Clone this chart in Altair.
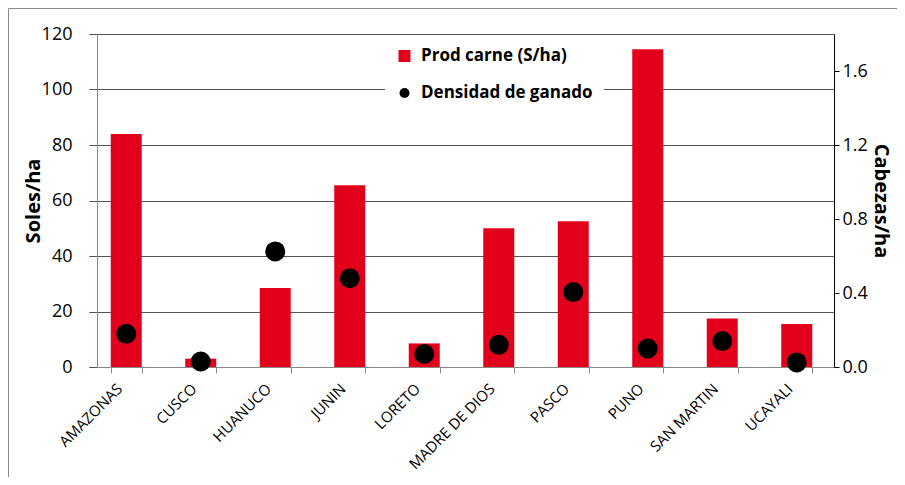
import altair as alt
import pandas as pd

regions = ["AMAZONAS", "CUSCO", "HUANUCO", "JUNIN", "LORETO",
           "MADRE DE DIOS", "PASCO", "PUNO", "SAN MARTIN", "UCAYALI"]
prod_carne = [84, 3, 28.5, 65.5, 8.5, 50, 52.5, 114.5, 17.5, 15.5]
densidad = [0.18, 0.03, 0.625, 0.48, 0.07, 0.12, 0.405, 0.10, 0.14, 0.025]
left_ticks = [0, 20, 40, 60, 80, 100, 120]
right_ticks = [0.0, 0.4, 0.8, 1.2, 1.6]
series1 = "Prod carne (S/ha)"
series2 = "Densidad de ganado"

df = pd.DataFrame({"region": regions, "prod": prod_carne, "dens": densidad,
                   "s1": series1, "s2": series2})

FONT = "Open Sans"

x_enc = alt.X(
    "region:N", sort=regions, title=None,
    scale=alt.Scale(paddingInner=0.584, paddingOuter=0.292),
    axis=alt.Axis(labelAngle=-45, labelFontSize=15, labelColor="#000", labelFont=FONT,
                  tickBand="extent", tickColor="#888", tickSize=6, domainColor="#888",
                  labelPadding=8, labelOffset=-12, grid=False, labelLimit=0),
)

legend_common = dict(title=None, orient="none", fillColor="white", padding=11,
                     labelFont=FONT, labelFontWeight="bold", labelFontSize=17,
                     labelColor="#000", labelOffset=8, symbolStrokeWidth=0,
                     labelLimit=0)

bars = alt.Chart(df).mark_bar().encode(
    x=x_enc,
    y=alt.Y("prod:Q", scale=alt.Scale(domain=[0, 120], nice=False),
            axis=alt.Axis(values=left_ticks, title="Soles/ha", offset=-8, tickSize=8,
                          grid=True, gridColor="#555", gridWidth=1, domainColor="#888",
                          tickColor="#555", labelFontSize=18, labelPadding=17,
                          titleFontSize=20, titleFontWeight="bold", titlePadding=-2,
                          labelColor="#000", titleColor="#000")),
    color=alt.Color("s1:N", scale=alt.Scale(domain=[series1], range=["#e2001a"]),
                    legend=alt.Legend(legendX=296, legendY=2.5, symbolType="square",
                                      symbolSize=144, **legend_common)),
)

pts = alt.Chart(df).mark_point(filled=True, size=400, opacity=1).encode(
    x=x_enc,
    y=alt.Y("dens:Q", scale=alt.Scale(domain=[0, 1.8], nice=False),
            axis=alt.Axis(orient="right", values=right_ticks, format=".1f",
                          title="Cabezas/ha", grid=False, tickSize=5, domainColor="#000",
                          tickColor="#000", labelFontSize=18, labelPadding=3,
                          titleFontSize=20, titleFontWeight="bold", titlePadding=3,
                          labelColor="#000", titleColor="#000")),
    fill=alt.Fill("s2:N", scale=alt.Scale(domain=[series2], range=["#000000"]),
                  legend=alt.Legend(legendX=296, legendY=39.5, symbolType="circle",
                                    symbolSize=100, **legend_common)),
)

frame = alt.Chart(pd.DataFrame({"k": [0]})).mark_rect(
    fillOpacity=0, stroke="#888", strokeWidth=1
).encode(x=alt.value(-80.5), x2=alt.value(900), y=alt.value(-25.5), y2=alt.value(500))

chart = alt.layer(bars, pts, frame).resolve_scale(
    y="independent", color="independent", fill="independent"
).resolve_legend(color="independent", fill="independent").properties(
    width=745, height=333,
    padding={"left": 81, "top": 26, "right": 63, "bottom": 110},
    autosize=alt.AutoSizeParams(type="none"),
).configure_view(stroke=None).configure_axis(
    labelFont=FONT, titleFont=FONT
)

chart.save("out.html", embed_options={"renderer": "svg", "actions": False})
